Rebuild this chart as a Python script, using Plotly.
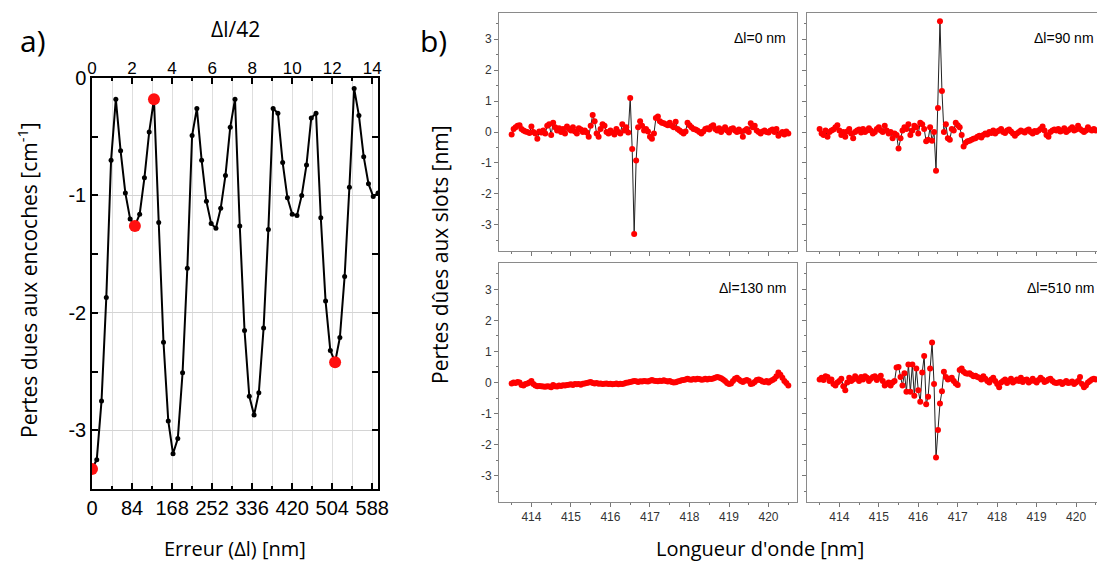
import plotly.graph_objects as go

# ---------------- data ----------------
# Panel a: losses due to notches vs error dl (nm)
err_nm = list(range(0, 601, 10))
pertes_encoches = [
    -3.33, -3.25, -2.75, -1.87, -0.70, -0.18, -0.62, -0.98, -1.20, -1.26,
    -1.16, -0.85, -0.46, -0.18, -1.23, -2.25, -2.92, -3.20, -3.07, -2.51,
    -1.62, -0.49, -0.26, -0.70, -1.05, -1.24, -1.28, -1.11, -0.83, -0.42,
    -0.18, -1.26, -2.15, -2.71, -2.87, -2.68, -2.13, -1.29, -0.26, -0.30,
    -0.72, -1.02, -1.16, -1.17, -1.00, -0.74, -0.34, -0.30, -1.19, -1.90,
    -2.32, -2.42, -2.21, -1.69, -0.93, -0.09, -0.32, -0.67, -0.90, -1.01,
    -0.98]
sel_err = [0, 90, 130, 510]
sel_pertes = [-3.33, -1.26, -0.18, -2.42]

ya_ticks = [0, -1, -2, -3]
ya_text = ["0", "-1", "-2", "-3"]

# Panel b: losses due to slots vs wavelength
wl_start = 413.5
wl_step = 0.05
slots_0 = [
    -0.08, 0.10, 0.15, 0.20, 0.22, 0.10, 0.05, 0.02, 0.00, -0.03,
    0.18, 0.00, -0.05, -0.22, 0.02, -0.02, 0.05, -0.05, 0.20, 0.25,
    -0.10, 0.30, 0.15, 0.05, 0.12, 0.00, 0.10, -0.05, 0.18, 0.10,
    0.05, 0.15, 0.02, -0.05, 0.12, 0.08, 0.00, 0.05, -0.02, -0.15,
    0.20, 0.55, 0.35, -0.05, -0.15, 0.10, 0.25, 0.20, 0.00, -0.05,
    0.05, -0.02, -0.08, 0.10, 0.00, -0.05, 0.25, 0.05, 0.15, -0.02,
    1.10, -0.55, -3.30, -0.92, 0.15, 0.35, 0.20, 0.05, 0.10, 0.02,
    -0.15, -0.22, -0.05, 0.45, 0.50, 0.35, 0.30, 0.28, 0.25, 0.22,
    0.30, 0.20, 0.15, 0.33, 0.10, 0.05, 0.00, -0.05, 0.02, 0.30,
    0.22, 0.15, 0.10, 0.08, 0.05, 0.00, -0.05, 0.02, 0.10, 0.12,
    0.08, 0.18, 0.22, 0.10, 0.05, 0.12, 0.00, 0.08, 0.15, 0.05,
    -0.02, 0.10, 0.12, 0.05, 0.00, 0.08, 0.02, -0.15, 0.05, 0.10,
    0.00, 0.28, 0.15, 0.20, 0.05, 0.00, -0.05, 0.02, 0.05, 0.00,
    -0.02, 0.05, 0.08, 0.00, 0.10, -0.12, -0.05, 0.00, -0.08, 0.02,
    -0.05]
slots_90 = [
    0.10, -0.05, -0.10, 0.05, -0.15, 0.00, 0.05, 0.08, 0.15, 0.22,
    0.05, -0.10, 0.00, -0.15, 0.02, 0.10, -0.05, -0.20, 0.00, 0.05,
    0.08, -0.02, 0.10, 0.00, 0.05, 0.12, 0.05, -0.05, 0.00, 0.10,
    0.15, 0.05, 0.00, 0.20, 0.05, -0.05, 0.00, -0.20, -0.05, -0.10,
    -0.53, -0.20, 0.05, 0.15, 0.10, 0.25, -0.10, 0.05, 0.20, 0.15,
    -0.05, 0.30, 0.25, 0.10, -0.30, -0.25, 0.15, -0.28, 0.00, -1.25,
    0.78, 3.58, 1.33, 0.00, 0.25, -0.20, -0.25, 0.10, 0.05, 0.30,
    0.22, 0.15, -0.10, -0.47, -0.35, -0.30, -0.28, -0.25, -0.22, -0.20,
    -0.15, -0.12, -0.18, -0.10, -0.05, -0.08, 0.00, -0.03, 0.05, -0.05,
    0.02, 0.05, 0.10, 0.00, -0.03, 0.05, 0.08, 0.02, -0.05, -0.12,
    -0.05, 0.00, 0.05, 0.02, -0.02, 0.05, 0.08, 0.00, -0.05, 0.03,
    0.00, 0.05, 0.10, 0.18, 0.05, -0.10, -0.15, 0.00, 0.05, 0.08,
    0.05, 0.10, 0.02, 0.05, 0.12, 0.00, 0.05, 0.10, 0.15, 0.05,
    0.08, 0.20, 0.10, 0.05, 0.00, 0.05, 0.15, 0.08, 0.05, 0.10,
    0.05]
slots_130 = [
    -0.03, 0.00, -0.02, 0.02, 0.00, -0.08, -0.10, -0.05, -0.03, 0.00,
    0.05, -0.05, -0.10, -0.12, -0.11, -0.12, -0.13, -0.14, -0.12, -0.13,
    -0.15, -0.08, -0.12, -0.13, -0.10, -0.11, -0.09, -0.10, -0.08, -0.07,
    -0.06, -0.08, -0.05, -0.06, -0.05, -0.07, -0.04, -0.03, -0.02, 0.00,
    0.02, -0.02, -0.03, -0.02, -0.04, -0.03, -0.05, -0.04, -0.03, -0.05,
    -0.04, -0.06, -0.05, -0.03, -0.06, -0.04, -0.05, -0.03, -0.01, 0.00,
    0.02, 0.03, 0.05, 0.04, 0.02, 0.04, 0.03, 0.05, 0.04, 0.03,
    0.06, 0.08, 0.06, 0.05, 0.04, 0.06, 0.05, 0.07, 0.05, 0.03,
    0.05, 0.02, 0.00, 0.01, 0.03, 0.05, 0.07, 0.08, 0.10, 0.12,
    0.10, 0.09, 0.11, 0.10, 0.12, 0.11, 0.09, 0.10, 0.12, 0.10,
    0.12, 0.11, 0.13, 0.15, 0.18, 0.16, 0.14, 0.10, 0.05, -0.02,
    -0.05, -0.03, 0.05, 0.12, 0.15, 0.10, 0.05, 0.02, 0.06, 0.08,
    0.05, -0.05, -0.03, 0.02, 0.08, 0.10, 0.07, 0.03, 0.02, 0.05,
    0.00, 0.05, 0.08, 0.12, 0.20, 0.32, 0.25, 0.15, 0.05, -0.02,
    -0.10]
slots_510 = [
    0.10, 0.15, 0.08, 0.20, 0.18, 0.05, 0.10, -0.05, -0.10, 0.00,
    0.05, 0.12, -0.12, -0.25, 0.00, 0.15, 0.05, 0.10, 0.20, 0.12,
    0.05, 0.18, 0.10, 0.20, 0.15, 0.05, 0.12, 0.18, 0.20, 0.08,
    0.15, 0.22, 0.05, -0.10, -0.05, 0.00, -0.10, 0.00,
    0.05, 0.48, 0.50, 0.18, -0.10, 0.30, -0.30, 0.58, -0.30, 0.58,
    -0.43, 0.45, -0.25, -0.62, 0.32, 0.85, -0.70, -0.46, 0.45, 1.29,
    -0.05, -2.42, -1.53, -0.68, -0.28, 0.35, 0.18, 0.10, 0.12, 0.15,
    0.05, -0.03, -0.08, 0.40, 0.45, 0.35, 0.30, 0.28, 0.30, 0.25,
    0.20, 0.22,
    0.18, 0.15, 0.10, 0.20, 0.12, 0.05, 0.00, 0.10, 0.15, 0.05,
    -0.05, -0.15, 0.00, 0.05, 0.10, -0.02, 0.05, 0.12, 0.00, 0.05,
    0.10, 0.05, 0.15, 0.02, 0.08, 0.10, 0.00, 0.05, 0.12, 0.05,
    0.00, 0.08, 0.15, 0.10, 0.02, 0.05, 0.10, 0.12, 0.05, 0.00,
    -0.02, 0.00, 0.02, -0.05, 0.00, 0.05, -0.02, 0.00, 0.03, -0.05,
    0.00, 0.05, 0.18, -0.05, -0.15, -0.10, 0.00, 0.05, 0.10, 0.12,
    0.10]
slot_series = [slots_0, slots_90, slots_130, slots_510]
slot_labels = ["\u0394l=0 nm", "\u0394l=90 nm", "\u0394l=130 nm", "\u0394l=510 nm"]
xb_ticks = [414, 415, 416, 417, 418, 419, 420]
yb_ticks = [-3, -2, -1, 0, 1, 2, 3]
yb_text = ["-3", "-2", "-1", "0", "1", "2", "3"]

# ---------------- layout helpers ----------------
W, H = 1097, 565


def fx(px):
    return px / W


def fy(py):
    return 1 - py / H


TICKFONT = "Liberation Sans, Arial, sans-serif"
TITLEFONT = "Open Sans, Noto Sans, sans-serif"

fig = go.Figure()

# Panel a traces
fig.add_trace(go.Scatter(
    x=err_nm, y=pertes_encoches, mode="lines+markers",
    line=dict(color="black", width=2),
    marker=dict(color="black", size=5),
    xaxis="x", yaxis="y", showlegend=False))
fig.add_trace(go.Scatter(
    x=sel_err, y=sel_pertes, mode="markers",
    marker=dict(color="#ff1010", size=12),
    xaxis="x", yaxis="y", showlegend=False))
# invisible trace to activate top axis
fig.add_trace(go.Scatter(
    x=[0, 14], y=[-1, -1], mode="markers", marker=dict(opacity=0),
    xaxis="x2", yaxis="y", showlegend=False, hoverinfo="skip"))

# Panel b traces
axis_ids = [("x3", "y3"), ("x4", "y4"), ("x5", "y5"), ("x6", "y6")]
for vals, (xa, ya) in zip(slot_series, axis_ids):
    wl = [wl_start + wl_step * i for i in range(len(vals))]
    fig.add_trace(go.Scatter(
        x=wl, y=vals, mode="lines+markers",
        line=dict(color="#222222", width=1),
        marker=dict(color="#ff0000", size=6),
        xaxis=xa, yaxis=ya, showlegend=False))

layout = dict(
    width=W, height=H,
    margin=dict(l=0, r=0, t=0, b=0, autoexpand=False),
    paper_bgcolor="white", plot_bgcolor="white",
    showlegend=False,
)

# Panel a axes
layout["xaxis"] = dict(
    domain=[fx(92), fx(378)], range=[0, 600], anchor="y", automargin=False,
    tickmode="linear", tick0=0, dtick=84,
    ticks="inside", ticklen=6, tickwidth=1.5, tickcolor="black",
    showline=True, linecolor="black", linewidth=1.5, mirror=True,
    showgrid=True, gridcolor="#dedede", gridwidth=1, zeroline=False,
    minor=dict(dtick=42, tick0=0, ticks="inside", ticklen=3, tickcolor="black",
               showgrid=True, gridcolor="#dedede", gridwidth=1),
    tickfont=dict(family=TICKFONT, size=20, color="black"),
)
layout["xaxis2"] = dict(
    overlaying="x", side="top", anchor="y", range=[0, 600 / 42], automargin=False,
    tickmode="linear", tick0=0, dtick=2,
    ticks="inside", ticklen=6, tickwidth=1.5, tickcolor="black",
    minor=dict(dtick=1, tick0=0, ticks="inside", ticklen=3, tickcolor="black"),
    showgrid=False, zeroline=False, showline=False,
    tickfont=dict(family=TICKFONT, size=17, color="black"),
)
layout["yaxis"] = dict(
    domain=[fy(489), fy(78)], range=[-3.5, 0], anchor="x", automargin=False,
    tickmode="array", tickvals=ya_ticks, ticktext=ya_text,
    ticks="inside", ticklen=6, tickwidth=1.5, tickcolor="black",
    showline=True, linecolor="black", linewidth=1.5, mirror="allticks",
    showgrid=True, gridcolor="#d4d4d4", gridwidth=1, zeroline=False,
    minor=dict(dtick=0.5, tick0=0, ticks="inside", ticklen=3, tickcolor="black"),
    tickfont=dict(family=TICKFONT, size=20, color="black"),
)

# Panel b axes
cols = [(499, 797, [413.18, 420.72]), (807, 1097, [413.18, 420.53])]
rows = [(13, 251), (263, 502)]
idx = 3
for r, (top, bot) in enumerate(rows):
    for c, (left, right, xr) in enumerate(cols):
        xa = dict(
            domain=[fx(left), fx(right)], range=xr, anchor="y%d" % idx,
            automargin=False,
            tickmode="array", tickvals=xb_ticks,
            showticklabels=(r == 1),
            ticks="outside", ticklen=4, tickcolor="#777",
            showline=True, linecolor="#8a8a8a", linewidth=1, mirror=True,
            showgrid=False, zeroline=False,
            minor=dict(dtick=0.5, tick0=413.5, ticks="outside", ticklen=2, tickcolor="#777"),
            tickfont=dict(family=TICKFONT, size=12, color="#333"),
        )
        ya = dict(
            domain=[fy(bot), fy(top)], range=[-3.85, 3.85], anchor="x%d" % idx,
            automargin=False,
            tickmode="array", tickvals=yb_ticks, ticktext=yb_text,
            showticklabels=(c == 0),
            ticks="outside", ticklen=4, tickcolor="#777",
            showline=True, linecolor="#8a8a8a", linewidth=1, mirror=(c == 0),
            showgrid=False, zeroline=False,
            minor=dict(dtick=0.5, tick0=0, ticks="outside", ticklen=2, tickcolor="#777"),
            tickfont=dict(family=TICKFONT, size=12, color="#333"),
        )
        layout["xaxis%d" % idx] = xa
        layout["yaxis%d" % idx] = ya
        idx += 1

annotations = [
    dict(text="a)", x=fx(18), y=fy(40), xref="paper", yref="paper",
         xanchor="left", yanchor="middle", showarrow=False,
         font=dict(family=TITLEFONT, size=30, color="black")),
    dict(text="b)", x=fx(418), y=fy(40), xref="paper", yref="paper",
         xanchor="left", yanchor="middle", showarrow=False,
         font=dict(family=TITLEFONT, size=30, color="black")),
    dict(text="\u0394l/42", x=fx(235), y=fy(29), xref="paper", yref="paper",
         xanchor="center", yanchor="middle", showarrow=False,
         font=dict(family=TITLEFONT, size=21, color="black")),
    dict(text="Erreur (\u0394l) [nm]", x=fx(235), y=fy(548), xref="paper", yref="paper",
         xanchor="center", yanchor="middle", showarrow=False,
         font=dict(family=TITLEFONT, size=20, color="black")),
    dict(text="Pertes dues aux encoches [cm<sup>-1</sup>]", x=fx(27), y=fy(280),
         xref="paper", yref="paper", textangle=-90,
         xanchor="center", yanchor="middle", showarrow=False,
         font=dict(family=TITLEFONT, size=21, color="black")),
    dict(text="Pertes d\u00fbes aux slots [nm]", x=fx(440), y=fy(255),
         xref="paper", yref="paper", textangle=-90,
         xanchor="center", yanchor="middle", showarrow=False,
         font=dict(family=TITLEFONT, size=21, color="black")),
    dict(text="Longueur d'onde [nm]", x=fx(760), y=fy(548), xref="paper", yref="paper",
         xanchor="center", yanchor="middle", showarrow=False,
         font=dict(family=TITLEFONT, size=20, color="black")),
]
for lab, (xa, ya) in zip(slot_labels, axis_ids):
    annotations.append(dict(
        text=lab, x=420.5, y=3.05, xref=xa, yref=ya,
        xanchor="right", yanchor="middle", showarrow=False,
        font=dict(family=TICKFONT, size=14, color="black")))
layout["annotations"] = annotations

fig.update_layout(**layout)
fig.write_html(
    "out.html",
    config={"displayModeBar": False},
    post_script="document.body.style.margin='0';document.body.style.overflow='hidden';",
)
